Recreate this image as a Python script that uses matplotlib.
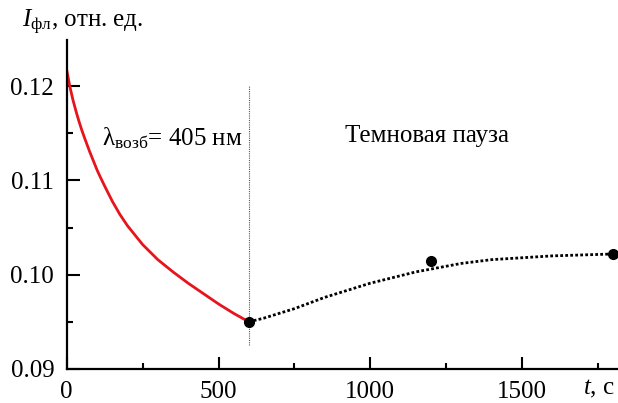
import numpy as np
import matplotlib
matplotlib.use("Agg")
import matplotlib.pyplot as plt
from matplotlib.ticker import MultipleLocator, FormatStrFormatter

plt.rcParams['font.family'] = ['Liberation Serif', 'DejaVu Serif']
plt.rcParams['mathtext.fontset'] = 'custom'
plt.rcParams['mathtext.rm'] = 'Liberation Serif'
plt.rcParams['mathtext.it'] = 'Liberation Serif:italic'

# excitation (red curve)
t_exc = [0, 10, 20, 30, 40, 50, 60, 75, 90, 100, 110, 125, 150, 175, 200,
         250, 300, 350, 400, 450, 500, 550, 600]
i_exc = [0.1217, 0.1200, 0.1186, 0.1174, 0.1163, 0.1153, 0.1144, 0.1131,
         0.1119, 0.1111, 0.1104, 0.1094, 0.1078, 0.1064, 0.1052,
         0.1032, 0.1016, 0.1003, 0.0991, 0.0980, 0.0969, 0.0959, 0.0950]

# dark pause (dotted fit)
t_dark = [600, 650, 700, 750, 800, 850, 900, 950, 1000, 1050, 1100, 1150,
          1200, 1250, 1300, 1350, 1400, 1450, 1500, 1600, 1700, 1800]
i_dark = [0.0950, 0.0954, 0.0959, 0.0964, 0.0970, 0.0976, 0.0981, 0.0986,
          0.0991, 0.0995, 0.0999, 0.1003, 0.1006, 0.1009, 0.1012, 0.1014,
          0.1016, 0.1017, 0.1018, 0.1020, 0.1021, 0.1022]

# measured points
t_pts = [600, 1200, 1800]
i_pts = [0.0950, 0.1015, 0.1022]

x_ticks = [0, 500, 1000, 1500]
y_ticks = [0.09, 0.10, 0.11, 0.12]

fig = plt.figure(figsize=(6.18, 4.03), dpi=100)
ax = fig.add_axes([0.108, 0.0844, 0.89, 0.8163])

ax.plot(t_exc, i_exc, color='#e8141c', lw=2.0)
ax.plot(t_dark, i_dark, color='black', lw=2.0, ls=(0, (1, 0.8)))
ax.plot(t_pts, i_pts, 'o', color='black', ms=7, clip_on=False, zorder=5)
ax.plot([600, 600], [0.0925, 0.1201], color='#555555', lw=0.8, ls=(0, (1, 1)))

ax.set_xlim(0, 1812)
ax.set_ylim(0.09, 0.1249)
ax.set_xticks(x_ticks)
ax.set_yticks(y_ticks)
ax.xaxis.set_minor_locator(MultipleLocator(250))
ax.yaxis.set_minor_locator(MultipleLocator(0.005))
ax.yaxis.set_major_formatter(FormatStrFormatter('%.2f'))

ax.spines['top'].set_visible(False)
ax.spines['right'].set_visible(False)
ax.spines['left'].set_linewidth(1.6)
ax.spines['bottom'].set_linewidth(1.6)
ax.tick_params(which='major', direction='in', length=9, width=1.5, labelsize=18)
ax.tick_params(which='minor', direction='in', length=4.5, width=1.5)
ax.tick_params(axis='y', pad=9)
ax.tick_params(axis='x', pad=9)

ax.text(116, 0.1145, r'$\mathrm{λ}_{\mathrm{возб}}$= 405 нм', fontsize=18,
        va='center', ha='left')
ax.text(916, 0.1147, 'Темновая пауза', fontsize=18, va='center', ha='left')

fig.text(0.035, 0.945, r'$I_{\mathrm{фл}}$, отн. ед.', fontsize=18,
         va='center', ha='left')
fig.text(0.943, 0.034, r'$t$, с', fontsize=18, va='center', ha='left')

fig.savefig('out.png', dpi=100)
